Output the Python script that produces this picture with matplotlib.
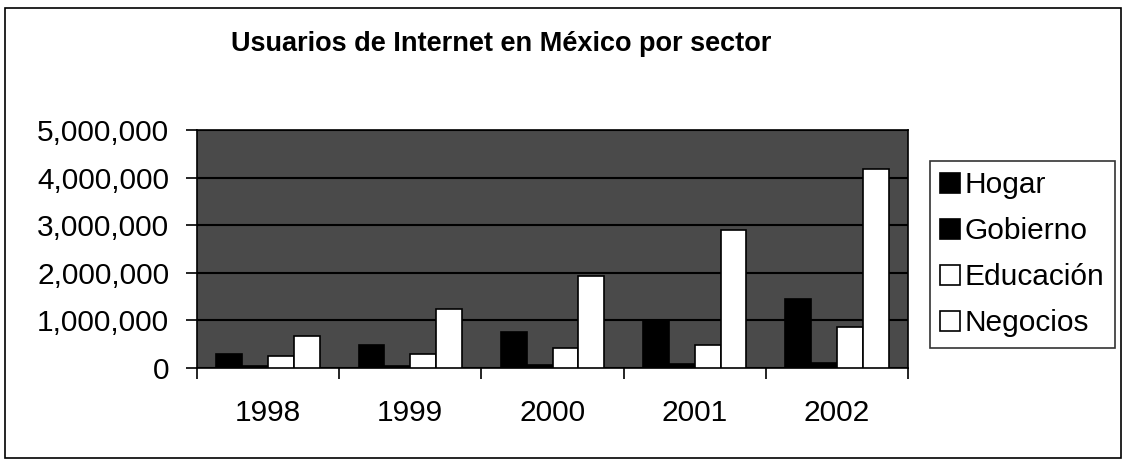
import matplotlib
matplotlib.use("Agg")
import matplotlib.pyplot as plt
from matplotlib.patches import Rectangle, Patch
from matplotlib.ticker import FuncFormatter, FixedLocator
import numpy as np

plt.rcParams["font.family"] = ["Liberation Sans", "DejaVu Sans"]

# datos
years = ["1998", "1999", "2000", "2001", "2002"]
hogar = [300000, 480000, 750000, 1000000, 1450000]
gobierno = [40000, 50000, 60000, 80000, 110000]
educacion = [250000, 300000, 420000, 490000, 870000]
negocios = [680000, 1240000, 1940000, 2900000, 4190000]

series = [("Hogar", hogar, "black"),
          ("Gobierno", gobierno, "black"),
          ("Educación", educacion, "white"),
          ("Negocios", negocios, "white")]

fig = plt.figure(figsize=(11.27, 4.62), dpi=100)
ax = fig.add_axes([197 / 1127, 94 / 462, 711 / 1127, 238 / 462])
ax.set_facecolor("#4a4a4a")

x = np.arange(len(years))
w = 1 / 5.5
for j, (name, vals, col) in enumerate(series):
    ax.bar(x + (j - 1.5) * w, vals, width=w, color=col, edgecolor="black",
           linewidth=1.2, zorder=3)

ax.set_xlim(-0.5, len(years) - 0.5)
ax.set_ylim(0, 5000000)
ax.set_yticks(np.arange(0, 5000001, 1000000))
ax.yaxis.set_major_formatter(FuncFormatter(lambda v, p: f"{int(v):,}"))
ax.grid(axis="y", color="black", linewidth=1.5, zorder=1)

ax.set_xticks(x)
ax.set_xticklabels(years)
ax.xaxis.set_minor_locator(FixedLocator(np.arange(-0.5, len(years), 1)))
ax.tick_params(axis="x", which="major", length=0, pad=22, labelsize=21.5)
ax.tick_params(axis="x", which="minor", length=8, width=1.2, color="black")
ax.tick_params(axis="y", length=8, width=1.2, pad=12, labelsize=21.5)

for s in ax.spines.values():
    s.set_color("black")
    s.set_linewidth(1.2)

fig.text(501 / 1127, 1 - 44 / 462, "Usuarios de Internet en México por sector",
         fontsize=19.5, fontweight="bold", ha="center", va="center")

handles = [Patch(facecolor=col, edgecolor="black", linewidth=1.2, label=name)
           for name, vals, col in series]
leg = fig.legend(handles=handles, loc="upper left",
                 bbox_to_anchor=(930 / 1127, 1 - 161 / 462),
                 fontsize=21.5, frameon=True, fancybox=False,
                 handlelength=0.65, handleheight=0.65, handletextpad=0.15,
                 labelspacing=0.6, borderpad=0.35, borderaxespad=0)
leg.get_frame().set_edgecolor("black")
leg.get_frame().set_linewidth(1.2)

# marco exterior del grafico
fig.patches.append(Rectangle((5 / 1127, 4 / 462), 1116 / 1127, 450 / 462,
                             transform=fig.transFigure, fill=False,
                             edgecolor="black", linewidth=1.2))

fig.savefig("out.png", dpi=100)
